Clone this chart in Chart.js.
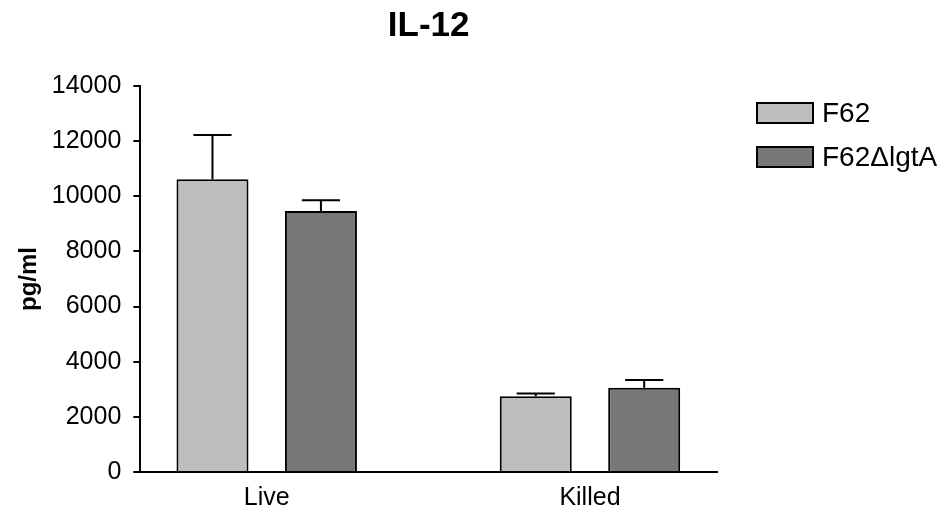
<!DOCTYPE html>
<html>
<head>
<meta charset="utf-8">
<title>IL-12</title>
<script src="https://cdn.jsdelivr.net/npm/chart.js@4/dist/chart.umd.min.js"></script>
<style>
    html, body { margin: 0; padding: 0; background: #fff; }
    #wrap { width: 951px; height: 512px; }
</style>
</head>
<body>
<div id="wrap"><canvas id="il12Chart" width="951" height="512"></canvas></div>
<script>
// Chart data
const categories = ['Live', 'Killed'];
const seriesNames = ['F62', 'F62\u0394lgtA'];
const f62Values = [10620, 2750];
const f62Errors = [1600, 100];
const lgtAValues = [9470, 3060];
const lgtAErrors = [390, 280];
const yTicks = [0, 2000, 4000, 6000, 8000, 10000, 12000, 14000];

const FONT = '"Liberation Sans", Arial, sans-serif';

// Draw upward-only error bars with caps on top of each bar
const errorBarPlugin = {
    id: 'errorBars',
    afterDatasetsDraw(chart) {
        const ctx = chart.ctx;
        const yScale = chart.scales.y;
        ctx.save();
        ctx.strokeStyle = '#000';
        ctx.lineWidth = 2;
        chart.data.datasets.forEach((ds, di) => {
            const meta = chart.getDatasetMeta(di);
            meta.data.forEach((bar, i) => {
                const value = ds.data[i].y;
                const top = yScale.getPixelForValue(value + ds.errors[i]);
                const capHalf = bar.width * 0.265;
                ctx.beginPath();
                ctx.moveTo(bar.x, bar.y);
                ctx.lineTo(bar.x, top);
                ctx.moveTo(bar.x - capHalf, top);
                ctx.lineTo(bar.x + capHalf, top);
                ctx.stroke();
            });
        });
        ctx.restore();
    }
};

// Legend drawn to the right of the plot area, like the original figure
const sideLegendPlugin = {
    id: 'sideLegend',
    afterDraw(chart) {
        const ctx = chart.ctx;
        const area = chart.chartArea;
        const left = area.right + 40;
        const boxW = 56;
        const boxH = 20;
        ctx.save();
        ctx.font = '28px ' + FONT;
        ctx.textBaseline = 'middle';
        ctx.textAlign = 'left';
        chart.data.datasets.forEach((ds, i) => {
            const top = area.top + 17 + i * 44;
            ctx.fillStyle = ds.backgroundColor;
            ctx.fillRect(left, top, boxW, boxH);
            ctx.strokeStyle = '#000';
            ctx.lineWidth = 2;
            ctx.strokeRect(left, top, boxW, boxH);
            ctx.fillStyle = '#000';
            ctx.fillText(ds.label, left + boxW + 9, top + boxH / 2 + 1);
        });
        ctx.restore();
    }
};

function toPoints(values) {
    return values.map((v, i) => ({ x: i, y: v }));
}

const ctx = document.getElementById('il12Chart').getContext('2d');
new Chart(ctx, {
    type: 'bar',
    data: {
        datasets: [
            {
                label: seriesNames[0],
                data: toPoints(f62Values),
                errors: f62Errors,
                backgroundColor: '#bdbdbd',
                borderColor: '#000',
                borderWidth: 2,
                borderSkipped: 'bottom'
            },
            {
                label: seriesNames[1],
                data: toPoints(lgtAValues),
                errors: lgtAErrors,
                backgroundColor: '#777777',
                borderColor: '#000',
                borderWidth: 2,
                borderSkipped: 'bottom'
            }
        ]
    },
    options: {
        responsive: false,
        animation: false,
        datasets: {
            bar: { categoryPercentage: 0.671, barPercentage: 0.664 }
        },
        layout: { padding: { left: 3, right: 234, top: 5, bottom: -12 } },
        plugins: {
            title: {
                display: true,
                text: 'IL-12',
                fullSize: false,
                color: '#000',
                font: { family: FONT, size: 35, weight: 'bold' },
                padding: { top: 0, bottom: 39 }
            },
            legend: { display: false },
            tooltip: { enabled: false }
        },
        scales: {
            x: {
                type: 'linear',
                offset: false,
                min: -0.391,
                max: 1.393,
                afterBuildTicks(scale) {
                    scale.ticks = categories.map((c, i) => ({ value: i }));
                },
                ticks: {
                    color: '#000',
                    padding: 11,
                    font: { family: FONT, size: 25 },
                    callback: value => categories[value]
                },
                grid: { display: false, drawTicks: false },
                border: { display: true, color: '#000', width: 2 }
            },
            y: {
                min: 0,
                max: 14000,
                afterBuildTicks(scale) {
                    scale.ticks = yTicks.map(v => ({ value: v }));
                },
                ticks: {
                    color: '#000',
                    padding: 12,
                    font: { family: FONT, size: 25 },
                    callback: value => String(value)
                },
                grid: {
                    drawOnChartArea: false,
                    drawTicks: true,
                    tickLength: 7,
                    color: '#000',
                    lineWidth: 2
                },
                border: { display: true, color: '#000', width: 2 },
                title: {
                    display: true,
                    text: 'pg/ml',
                    color: '#000',
                    padding: { top: 12, bottom: -4 },
                    font: { family: FONT, size: 24, weight: 'bold' }
                }
            }
        }
    },
    plugins: [errorBarPlugin, sideLegendPlugin]
});
</script>
</body>
</html>
